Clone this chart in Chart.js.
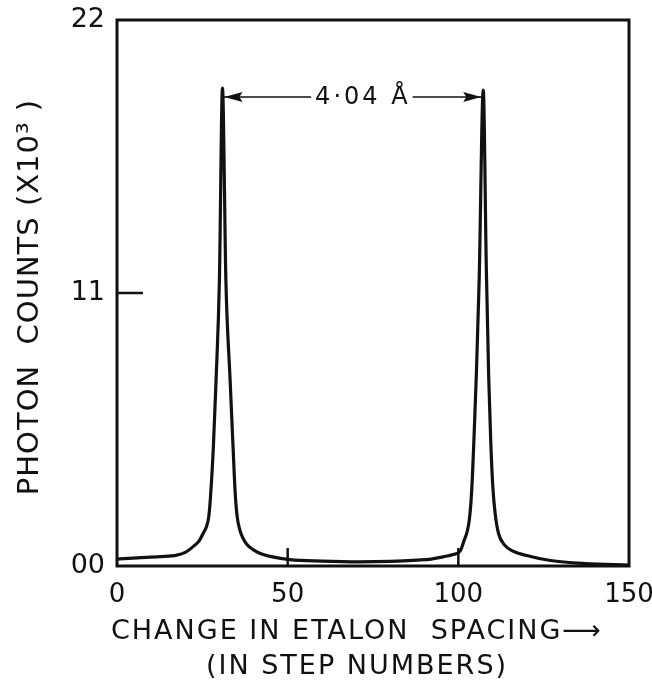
<!DOCTYPE html>
<html>
<head>
<meta charset="utf-8">
<script src="https://cdn.jsdelivr.net/npm/chart.js@4"></script>
<style>
  html, body { margin: 0; background: #fff; }
  #wrap { width: 652px; height: 690px; }
</style>
</head>
<body>
<div id="wrap"><canvas id="graficoFotones"></canvas></div>
<script>
// scan of the etalon: step number vs photon counts (x10^3)
const stepNumbers = [0, 6, 12.6, 17.5, 20, 22.3, 24, 25.3, 26.3, 26.9, 27.4, 28.2, 29.0, 30.0, 30.9,
  31.9, 33.1, 34.0, 34.6, 35.2, 35.9, 36.8, 38.0, 40, 42, 44.5, 50.7, 60, 71, 80, 88, 92, 95.5, 98.5,
  100.5, 101.5, 103.2, 103.9, 104.6, 105.3, 106.1, 107.3,
  108.2, 108.9, 109.5, 110.1, 110.8, 111.8, 113.5, 116, 120, 127, 137, 150];
const photonCounts = [0.28, 0.33, 0.38, 0.44, 0.55, 0.78, 1.0, 1.33, 1.62, 2.0, 2.8, 4.7, 7.4, 11.5, 19.26,
  11.5, 7.6, 4.8, 3.0, 2.0, 1.5, 1.15, 0.88, 0.65, 0.5, 0.4, 0.26, 0.2, 0.17, 0.19, 0.24, 0.28, 0.37, 0.46,
  0.6, 0.95, 1.85, 3.0, 5.2, 7.8, 11.5, 19.18,
  12.0, 7.6, 5.0, 3.2, 2.1, 1.3, 0.85, 0.6, 0.42, 0.22, 0.1, 0.04];

const yTicks = [0, 11, 22];
const yTickLabels = ['00', '11', '22'];
const innerTicksX = [50, 100];
const innerTicksY = [11];

const peakSteps = [30.9, 107.3];
const separationLevel = 18.9;
const separationLabel = '4·04 Å';

const xTitle = ['CHANGE IN ETALON  SPACING⟶', '(IN STEP NUMBERS)'];
const yTitle = 'PHOTON  COUNTS (X10³ )';

const ink = '#111';
const font = '"DejaVu Sans", sans-serif';

function line(ctx, x1, y1, x2, y2) {
  ctx.beginPath();
  ctx.moveTo(x1, y1);
  ctx.lineTo(x2, y2);
  ctx.stroke();
}

function arrowHead(ctx, x, y, dir) {
  ctx.beginPath();
  ctx.moveTo(x, y);
  ctx.lineTo(x + dir * 18, y - 5);
  ctx.lineTo(x + dir * 15, y);
  ctx.lineTo(x + dir * 18, y + 5);
  ctx.closePath();
  ctx.fill();
}

const decorations = {
  id: 'decorations',
  afterDatasetsDraw(chart) {
    const { ctx, chartArea: a, scales: { x, y } } = chart;
    ctx.save();
    ctx.strokeStyle = ink;
    ctx.fillStyle = ink;

    // box round the plot
    ctx.lineWidth = 3;
    ctx.strokeRect(a.left, a.top, a.right - a.left, a.bottom - a.top);

    // short ticks pointing inwards
    ctx.lineWidth = 2.5;
    innerTicksX.forEach(v => {
      const px = x.getPixelForValue(v);
      line(ctx, px, a.bottom, px, a.bottom - 18);
    });
    innerTicksY.forEach(v => {
      const py = y.getPixelForValue(v);
      line(ctx, a.left, py, a.left + 26, py);
    });

    // peak separation
    const xl = x.getPixelForValue(peakSteps[0]);
    const xr = x.getPixelForValue(peakSteps[1]);
    const yy = y.getPixelForValue(separationLevel);
    ctx.font = '24px ' + font;
    ctx.letterSpacing = '3px';
    ctx.textAlign = 'center';
    ctx.textBaseline = 'middle';
    const tx = (xl + xr) / 2 + 10;
    const w = ctx.measureText(separationLabel).width;
    ctx.fillText(separationLabel, tx, yy + 1);
    ctx.lineWidth = 1.5;
    line(ctx, xl, yy, tx - w / 2 - 4, yy);
    line(ctx, tx + w / 2 + 2, yy, xr, yy);
    arrowHead(ctx, xl + 2, yy, 1);
    arrowHead(ctx, xr - 2, yy, -1);

    // axis titles
    ctx.font = '27px ' + font;
    ctx.letterSpacing = '2px';
    const cx = (a.left + a.right) / 2 - 16;
    ctx.fillText(xTitle[0], cx, a.bottom + 66);
    ctx.fillText(xTitle[1], cx, a.bottom + 101);

    ctx.save();
    ctx.translate(30, (a.top + a.bottom) / 2 + 4);
    ctx.rotate(-Math.PI / 2);
    ctx.font = '29px ' + font;
    ctx.letterSpacing = '1px';
    ctx.fillText(yTitle, 0, 0);
    ctx.restore();

    ctx.restore();
  }
};

const chart = new Chart(document.getElementById('graficoFotones'), {
  type: 'line',
  data: {
    datasets: [{
      label: 'Photon counts',
      data: stepNumbers.map((s, i) => ({ x: s, y: photonCounts[i] })),
      borderColor: ink,
      borderWidth: 3.2,
      pointRadius: 0,
      cubicInterpolationMode: 'monotone',
      borderJoinStyle: 'round',
      fill: false
    }]
  },
  options: {
    responsive: true,
    maintainAspectRatio: false,
    animation: false,
    layout: { padding: { top: 20, right: 23, bottom: 0, left: 0 } },
    plugins: {
      legend: { display: false },
      tooltip: { enabled: false }
    },
    scales: {
      x: {
        type: 'linear',
        min: 0,
        max: 150,
        grid: { display: false, drawTicks: false },
        border: { display: false },
        ticks: {
          stepSize: 50,
          padding: 14,
          color: ink,
          font: { family: font, size: 26 }
        },
        afterFit(scale) {
          scale.height = 124;
          scale.paddingLeft = 0;
          scale.paddingRight = 0;
        }
      },
      y: {
        min: 0,
        max: 22,
        grid: { display: false, drawTicks: false },
        border: { display: false },
        afterBuildTicks(scale) { scale.ticks = yTicks.map(v => ({ value: v })); },
        ticks: {
          padding: 12,
          color: ink,
          font: { family: font, size: 27 },
          callback: (v) => yTickLabels[yTicks.indexOf(v)]
        },
        afterFit(scale) {
          scale.width = 117;
          scale.paddingTop = 0;
          scale.paddingBottom = 0;
        }
      }
    }
  },
  plugins: [decorations]
});
</script>
</body>
</html>
